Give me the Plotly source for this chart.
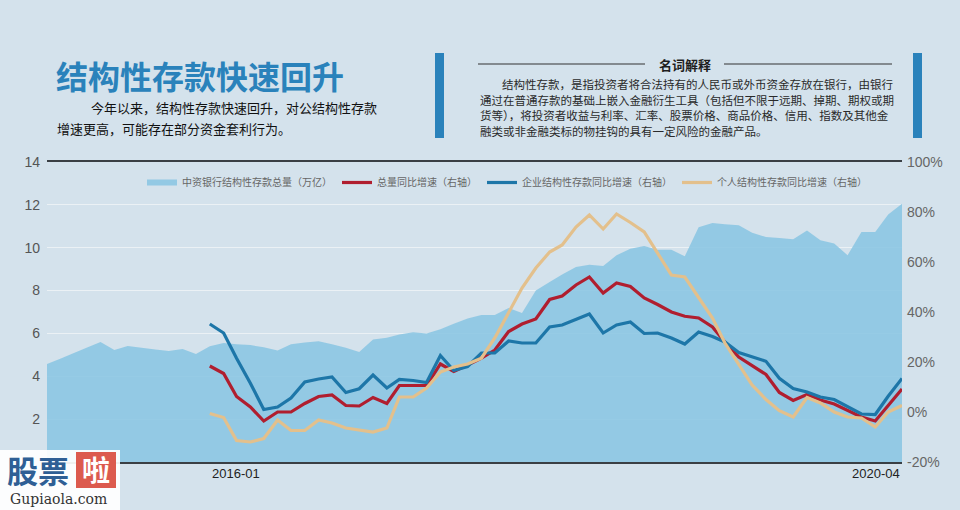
import pandas as pd
import plotly.graph_objects as go

# ---------------- data ----------------
months = pd.date_range("2015-01-01", periods=64, freq="MS")

total_stock = [4.57, 4.83, 5.08, 5.34, 5.6, 5.23, 5.41, 5.33, 5.25, 5.18, 5.27, 5.04,
               5.4, 5.55, 5.5, 5.46, 5.35, 5.2, 5.5, 5.58, 5.63, 5.5, 5.33, 5.13,
               5.72, 5.8, 5.95, 6.05, 6.0, 6.2, 6.45, 6.7, 6.86, 6.86, 7.19, 6.95,
               8.0, 8.4, 8.75, 9.1, 9.2, 9.15, 9.65, 9.95, 10.08, 9.9, 9.9, 9.6,
               10.95, 11.15, 11.1, 11.05, 10.7, 10.5, 10.45, 10.4, 10.8, 10.35, 10.2, 9.65,
               10.73, 10.73, 11.55, 12.05]

# YoY growth (%), from 2016-01 onward
total_yoy = [18.4, 15.4, 6.2, 2.0, -3.6, 0.0, 0.0, 3.4, 6.2, 6.8, 2.6, 2.4,
             5.8, 3.4, 10.6, 10.6, 10.6, 19.2, 16.2, 18.8, 21.6, 24.8, 32.2, 35.2,
             37.2, 45.0, 46.4, 50.8, 54.0, 47.6, 51.6, 50.2, 45.6, 43.0, 40.0, 38.3,
             37.6, 34.0, 28.0, 22.0, 18.5, 15.0, 7.8, 4.6, 7.0, 4.8, 3.2, 0.8,
             -2.0, -3.6, 2.8, 9.2]

corp_yoy = [35.2, 31.6, 21.5, 11.5, 1.0, 2.0, 5.6, 12.0, 13.2, 14.0, 7.8, 9.3,
            14.8, 9.6, 13.0, 12.6, 11.8, 22.6, 16.6, 18.2, 23.6, 23.6, 28.4, 27.6,
            27.6, 34.0, 34.8, 37.2, 39.2, 31.6, 34.8, 36.0, 31.4, 31.6, 29.6, 27.2,
            32.0, 30.2, 28.0, 23.8, 22.0, 20.3, 13.5, 9.4, 8.0, 6.0, 5.0, 2.0,
            -0.8, -1.0, 6.3, 13.4]

pers_yoy = [-0.6, -2.2, -11.4, -12.0, -10.6, -3.2, -7.4, -7.4, -3.2, -4.4, -6.4, -7.2,
            -8.0, -6.4, 6.0, 6.0, 9.6, 16.0, 18.0, 19.2, 21.5, 29.6, 40.0, 49.6,
            57.6, 64.0, 66.8, 74.0, 78.8, 73.2, 79.2, 75.8, 72.0, 63.6, 54.8, 54.0,
            45.6, 37.6, 27.6, 18.8, 10.8, 5.0, 0.5, -2.0, 5.8, 3.6, 0.0, -2.0,
            -2.4, -6.0, 0.0, 2.6]

series_names = ["中资银行结构性存款总量（万亿）", "总量同比增速（右轴）",
                "企业结构性存款同比增速（右轴）", "个人结构性存款同比增速（右轴）"]
x_tick_labels = ["2016-01", "2020-04"]
left_ticks = [2, 4, 6, 8, 10, 12, 14]
right_ticks = [-20, 0, 20, 40, 60, 80, 100]
right_tick_labels = ["-20%", "0%", "20%", "40%", "60%", "80%", "100%"]

title_text = "结构性存款快速回升"
sub_lines = ["今年以来，结构性存款快速回升，对公结构性存款",
             "增速更高，可能存在部分资金套利行为。"]
box_title = "名词解释"
box_lines = ["结构性存款，是指投资者将合法持有的人民币或外币资金存放在银行，由银行",
             "通过在普通存款的基础上嵌入金融衍生工具（包括但不限于远期、掉期、期权或期",
             "货等），将投资者收益与利率、汇率、股票价格、商品价格、信用、指数及其他金",
             "融类或非金融类标的物挂钩的具有一定风险的金融产品。"]

# ---------------- figure ----------------
W, H = 960, 510
ML, MR, MT, MB = 47, 58, 162, 48
PW, PH = W - ML - MR, H - MT - MB


def px(x):
    return (x - ML) / PW


def py(y):
    return (H - MB - y) / PH


FONT = "Noto Sans CJK SC"
yoy_x = months[12:]

fig = go.Figure()
fig.add_trace(go.Scatter(x=months, y=total_stock, name=series_names[0], mode="none",
                         fill="tozeroy", fillcolor="rgba(136,197,226,0.86)", yaxis="y"))
fig.add_trace(go.Scatter(x=yoy_x, y=total_yoy, name=series_names[1], mode="lines",
                         line=dict(color="#b01e2f", width=3.2), yaxis="y2"))
fig.add_trace(go.Scatter(x=yoy_x, y=corp_yoy, name=series_names[2], mode="lines",
                         line=dict(color="#1d76a8", width=3.2), yaxis="y2"))
fig.add_trace(go.Scatter(x=yoy_x, y=pers_yoy, name=series_names[3], mode="lines",
                         line=dict(color="#e3c08c", width=3.2), yaxis="y2"))

annotations = [
    dict(text="<b>" + title_text + "</b>", x=px(54), y=py(75), xref="paper", yref="paper",
         xanchor="left", yanchor="middle", showarrow=False,
         font=dict(family=FONT, size=32, color="#2a82bb")),
    dict(text=sub_lines[0], x=px(89), y=py(107), xref="paper", yref="paper", xanchor="left",
         yanchor="middle", showarrow=False, font=dict(family=FONT, size=13, color="#111")),
    dict(text=sub_lines[1], x=px(55), y=py(129), xref="paper", yref="paper", xanchor="left",
         yanchor="middle", showarrow=False, font=dict(family=FONT, size=13, color="#111")),
    dict(text="<b>" + box_title + "</b>", x=px(685), y=py(64), xref="paper", yref="paper",
         xanchor="center", yanchor="middle", showarrow=False,
         font=dict(family=FONT, size=13, color="#1e1e1e")),
]
for i, line in enumerate(box_lines):
    annotations.append(dict(text=line, x=px(500 if i == 0 else 478), y=py(84 + i * 15.5),
                            xref="paper", yref="paper", xanchor="left", yanchor="middle",
                            showarrow=False, font=dict(family=FONT, size=11.5, color="#2a2a2a")))

# x-axis labels anchored to dates
annotations.append(dict(text=x_tick_labels[0], x=yoy_x[0], xref="x", y=0, yref="paper",
                        xanchor="left", yanchor="top", yshift=-2, showarrow=False,
                        font=dict(family="Liberation Sans", size=13, color="#222")))
annotations.append(dict(text=x_tick_labels[1], x=months[-1], xref="x", y=0, yref="paper",
                        xanchor="right", yanchor="top", yshift=-2, showarrow=False,
                        font=dict(family="Liberation Sans", size=13, color="#222")))

# watermark
annotations.append(dict(text="<b>股票</b>", x=px(5), y=py(469), xref="paper", yref="paper",
                        xanchor="left", yanchor="middle", showarrow=False,
                        font=dict(family=FONT, size=31, color="#2f5f95")))
annotations.append(dict(text="<b>啦</b>", x=px(96), y=py(469), xref="paper", yref="paper",
                        xanchor="center", yanchor="middle", showarrow=False,
                        font=dict(family=FONT, size=28, color="#ffffff")))
annotations.append(dict(text="Gupiaola.com", x=px(58), y=py(499), xref="paper", yref="paper",
                        xanchor="center", yanchor="middle", showarrow=False,
                        font=dict(family="DejaVu Serif", size=14, color="#333")))

shapes = [
    dict(type="rect", xref="paper", yref="paper", x0=px(435), x1=px(444), y0=py(138), y1=py(53),
         fillcolor="#2a82bb", line=dict(width=0)),
    dict(type="rect", xref="paper", yref="paper", x0=px(913), x1=px(922), y0=py(138), y1=py(53),
         fillcolor="#2a82bb", line=dict(width=0)),
    dict(type="line", xref="paper", yref="paper", x0=px(478), x1=px(645), y0=py(64), y1=py(64),
         line=dict(color="#333", width=1)),
    dict(type="line", xref="paper", yref="paper", x0=px(724), x1=px(892), y0=py(64), y1=py(64),
         line=dict(color="#333", width=1)),
    # watermark box
    dict(type="rect", xref="paper", yref="paper", x0=px(0), x1=px(120), y0=py(510), y1=py(450),
         fillcolor="rgba(255,255,255,0.92)", line=dict(width=0)),
    dict(type="rect", xref="paper", yref="paper", x0=px(76), x1=px(116), y0=py(488), y1=py(452),
         fillcolor="#dc5a4e", line=dict(width=0)),
]

fig.update_layout(
    width=W, height=H,
    margin=dict(l=ML, r=MR, t=MT, b=MB),
    paper_bgcolor="#d4e2ec",
    plot_bgcolor="rgba(0,0,0,0)",
    font=dict(family=FONT, color="#555"),
    showlegend=True,
    legend=dict(orientation="h", x=px(142), y=py(168), xanchor="left", yanchor="top",
                bgcolor="rgba(0,0,0,0)", font=dict(family=FONT, size=10, color="#666"),
                itemwidth=30, tracegroupgap=0),
    xaxis=dict(range=[months[0], months[-1]], showgrid=False, showticklabels=False,
               ticks="", showline=True, mirror=True, linecolor="#3a3f44", linewidth=1.5,
               zeroline=False),
    yaxis=dict(range=[0, 14], tickvals=left_ticks, showgrid=True,
               gridcolor="rgba(236,241,245,0.95)", gridwidth=1, zeroline=False,
               tickfont=dict(family="Liberation Sans", size=14, color="#555"), ticks="",
               ticklabelstandoff=6),
    yaxis2=dict(range=[-20, 100], tickvals=right_ticks, ticktext=right_tick_labels,
                overlaying="y", side="right", showgrid=False, zeroline=False,
                tickfont=dict(family="Liberation Sans", size=14, color="#666"), ticks="",
                ticklabelstandoff=4),
    annotations=annotations,
    shapes=shapes,
)

fig.write_html("out.html", config={"displayModeBar": False},
               post_script="document.body.style.margin='0';")
